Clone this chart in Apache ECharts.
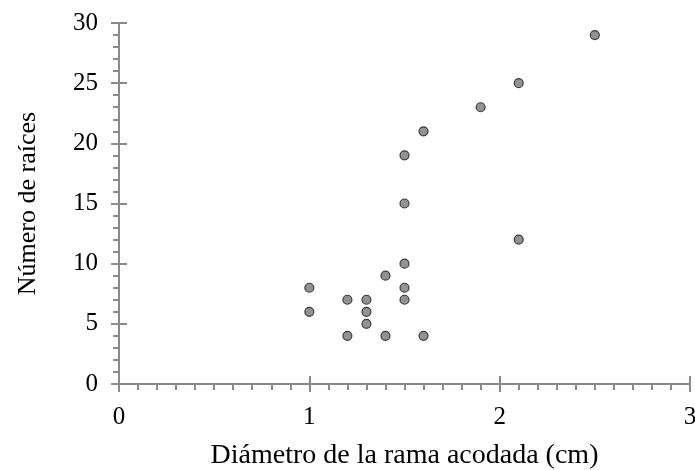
<!DOCTYPE html>
<html><head><meta charset="utf-8">
<script src="https://cdn.jsdelivr.net/npm/echarts@6/dist/echarts.min.js"></script>
<style>html,body{margin:0;padding:0;background:#fff}#c{width:695px;height:470px}</style>
</head><body><div id="c"></div>
<script>
const diametro = [1.0, 1.0, 1.2, 1.2, 1.3, 1.3, 1.3, 1.4, 1.4, 1.5, 1.5, 1.5, 1.5, 1.5, 1.6, 1.6, 1.9, 2.1, 2.1, 2.5];
const raices   = [8,   6,   7,   4,   7,   6,   5,   9,   4,   19,  15,  10,  8,   7,   21,  4,   23,  25,  12,  29];
const xTitle = 'Diámetro de la rama acodada (cm)';
const yTitle = 'Número de raíces';

const font = 'Liberation Serif, Times New Roman, serif';
const axisCol = '#8a8a8a';
const chart = echarts.init(document.getElementById('c'));
const baseX = {type:'value', min:0, max:3, interval:1, gridIndex:0};
const baseY = {type:'value', min:0, max:30, interval:5, gridIndex:0};
chart.setOption({
  animation:false,
  grid:{left:119, right:5, top:23, bottom:86, containLabel:false, outerBoundsMode:'none'},
  xAxis:[
    Object.assign({}, baseX, {
      name:xTitle, nameLocation:'middle', nameGap:58,
      nameTextStyle:{fontFamily:font, fontSize:28, color:'#000'},
      axisLine:{lineStyle:{color:axisCol, width:2}},
      axisTick:{inside:false, length:8, lineStyle:{color:axisCol, width:2}},
      minorTick:{show:true, splitNumber:10, length:6, lineStyle:{color:axisCol, width:2}},
      splitLine:{show:false},
      axisLabel:{fontFamily:font, fontSize:25, color:'#000', margin:21}
    }),
    Object.assign({}, baseX, {
      position:'bottom',
      axisLine:{show:false},
      axisTick:{inside:true, length:8, lineStyle:{color:axisCol, width:2}},
      splitLine:{show:false}, axisLabel:{show:false}
    })
  ],
  yAxis:[
    Object.assign({}, baseY, {
      name:yTitle, nameLocation:'middle', nameGap:78,
      nameTextStyle:{fontFamily:font, fontSize:26, color:'#000'},
      axisLine:{show:true, lineStyle:{color:axisCol, width:2}},
      axisTick:{show:true, inside:false, length:8, lineStyle:{color:axisCol, width:2}},
      minorTick:{show:true, splitNumber:5, length:6, lineStyle:{color:axisCol, width:2}},
      splitLine:{show:false},
      axisLabel:{fontFamily:font, fontSize:25, color:'#000', margin:21}
    }),
    Object.assign({}, baseY, {
      position:'left',
      axisLine:{show:false},
      axisTick:{show:true, inside:true, length:8, lineStyle:{color:axisCol, width:2}},
      splitLine:{show:false}, axisLabel:{show:false}
    })
  ],
  series:[{
    type:'scatter', xAxisIndex:0, yAxisIndex:0,
    symbolSize:9,
    itemStyle:{color:'#777777', borderColor:'#1a1a1a', borderWidth:1.2},
    data: diametro.map((d,i)=>[d, raices[i]])
  }]
});
</script></body></html>
